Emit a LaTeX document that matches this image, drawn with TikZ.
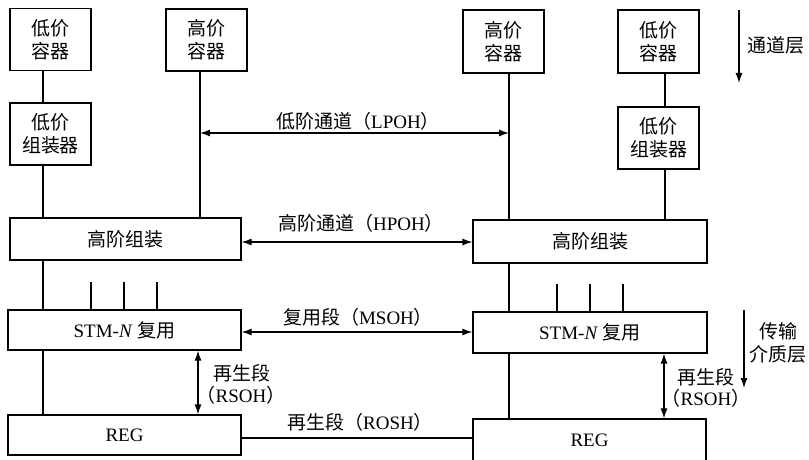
\documentclass[tikz,border=0pt]{standalone}
\usepackage{fontspec}
\setmainfont{Liberation Serif}
\newfontfamily\cjk{Noto Sans CJK SC}
\usetikzlibrary{arrows.meta}
\begin{document}
\begin{tikzpicture}[x=1pt,y=-1pt,
  every node/.style={font=\fontsize{19}{23}\selectfont},
  box/.style={draw,line width=1.2pt,inner sep=0pt,align=center},
  lbl/.style={inner sep=0pt,align=center},
  ln/.style={line width=1.2pt},
  tip/.style={line width=1.2pt,-{Latex[length=10pt,width=7pt]}},
  dtip/.style={line width=1.2pt,{Latex[length=10pt,width=7pt]}-{Latex[length=10pt,width=7pt]}}]
\useasboundingbox (0,0) rectangle (809,460);
% top boxes
\node[box,minimum width=81pt,minimum height=62pt] (lcL) at (50.5,39.5) {\cjk 低价\\\cjk 容器};
\node[box,minimum width=81pt,minimum height=62pt] (laL) at (50.5,134) {\cjk 低价\\\cjk 组装器};
\node[box,minimum width=81pt,minimum height=62pt] (hcL) at (206.5,40) {\cjk 高价\\\cjk 容器};
\node[box,minimum width=81pt,minimum height=63pt] (hcR) at (503.5,41.5) {\cjk 高价\\\cjk 容器};
\node[box,minimum width=81pt,minimum height=63pt] (lcR) at (658.5,41.5) {\cjk 低价\\\cjk 容器};
\node[box,minimum width=81pt,minimum height=62pt] (laR) at (658.5,138) {\cjk 低价\\\cjk 组装器};
% wide boxes
\node[box,minimum width=231pt,minimum height=42pt] (hoL) at (125.5,239) {\cjk 高阶组装};
\node[box,minimum width=234pt,minimum height=43pt] (hoR) at (590,241.5) {\cjk 高阶组装};
\node[box,minimum width=233pt,minimum height=40pt] (smL) at (124.5,330) {STM-\textit{N} {\cjk 复用}};
\node[box,minimum width=234pt,minimum height=41pt] (smR) at (590,332.5) {STM-\textit{N} {\cjk 复用}};
\node[box,minimum width=233pt,minimum height=40pt] (rgL) at (124.5,435) {REG};
\node[box,minimum width=233pt,minimum height=42pt] (rgR) at (589.5,440) {REG};
% x positions of vertical connectors
\coordinate (xa) at (43,0);
\coordinate (xb) at (200,0);
\coordinate (xc) at (509,0);
\coordinate (xd) at (665,0);
\coordinate (xe) at (198,0);
\coordinate (xf) at (664,0);
% vertical connectors
\draw[ln] (lcL.south -| xa) -- (laL.north -| xa);
\draw[ln] (laL.south -| xa) -- (hoL.north -| xa);
\draw[ln] (hoL.south -| xa) -- (smL.north -| xa);
\draw[ln] (smL.south -| xa) -- (rgL.north -| xa);
\draw[ln] (hcL.south -| xb) -- (hoL.north -| xb);
\draw[ln] (hcR.south -| xc) -- (hoR.north -| xc);
\draw[ln] (hoR.south -| xc) -- (smR.north -| xc);
\draw[ln] (smR.south -| xc) -- (rgR.north -| xc);
\draw[ln] (lcR.south -| xd) -- (laR.north -| xd);
\draw[ln] (laR.south -| xd) -- (hoR.north -| xd);
% ticks
\foreach \x in {91,124,157} \draw[ln] (\x,282) -- (smL.north -| \x,0);
\foreach \x in {557,590,623} \draw[ln] (\x,284) -- (smR.north -| \x,0);
% horizontal connectors
\coordinate (lpL) at (200,133);
\coordinate (lpR) at (509,133);
\draw[dtip] (lpL) -- (lpR);
\node[lbl] (tlp) at (358,121) {{\cjk 低阶通道（}LPOH{\cjk ）}};
\draw[dtip] (hoL.east |- 0,242) -- (hoR.west |- 0,242);
\node[lbl] (thp) at (361,223) {{\cjk 高阶通道（}HPOH{\cjk ）}};
\draw[dtip] (smL.east |- 0,332) -- (smR.west |- 0,332);
\node[lbl] (tms) at (358,317) {{\cjk 复用段（}MSOH{\cjk ）}};
\draw[ln] (rgL.east |- 0,438) -- (rgR.west |- 0,438);
\node[lbl] (trs) at (360,422) {{\cjk 再生段（}ROSH{\cjk ）}};
% RSOH double arrows
\draw[dtip] (smL.south -| xe) -- (rgL.north -| xe);
\node[lbl] (trl1) at (242,373) {\cjk 再生段};
\node[lbl] (trl2) at (241,395) {{\cjk （}RSOH{\cjk ）}};
\draw[dtip] (smR.south -| xf) -- (rgR.north -| xf);
\node[lbl] (trr1) at (706,377) {\cjk 再生段};
\node[lbl] (trr2) at (706,398) {{\cjk （}RSOH{\cjk ）}};
% layer arrows
\coordinate (ch1) at (739,10);
\coordinate (ch2) at (739,83);
\draw[tip] (ch1) -- (ch2);
\node[lbl] (tch) at (776,45) {\cjk 通道层};
\coordinate (tr1) at (744,310);
\coordinate (tr2) at (744,388);
\draw[tip] (tr1) -- (tr2);
\node[lbl] (ttr) at (778,343) {\cjk 传输\\\cjk 介质层};
\end{tikzpicture}
\end{document}
